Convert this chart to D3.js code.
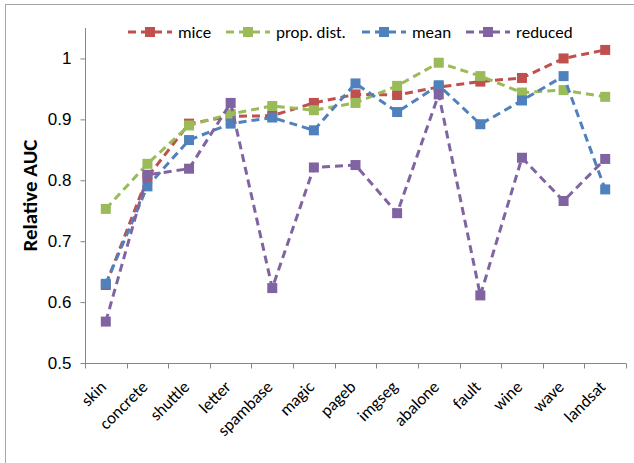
<!DOCTYPE html>
<html>
<head>
<meta charset="utf-8">
<script src="https://cdn.jsdelivr.net/npm/d3@7"></script>
<style>
  html, body { margin: 0; padding: 0; background: #fff; }
  svg { display: block; font-family: Carlito, Lato, "Liberation Sans", sans-serif; }
</style>
</head>
<body>
<svg id="chart" width="634" height="463"></svg>
<script>
// Datasets along the x axis
const categories = ["skin", "concrete", "shuttle", "letter", "spambase", "magic", "pageb",
                    "imgseg", "abalone", "fault", "wine", "wave", "landsat"];

// Relative AUC per imputation method
const mice     = [0.628, 0.805, 0.893, 0.905, 0.906, 0.927, 0.941, 0.940, 0.953, 0.962, 0.968, 1.000, 1.014];
const propDist = [0.753, 0.827, 0.890, 0.909, 0.922, 0.915, 0.927, 0.955, 0.993, 0.971, 0.944, 0.948, 0.937];
const mean     = [0.630, 0.790, 0.866, 0.893, 0.903, 0.882, 0.959, 0.912, 0.956, 0.892, 0.931, 0.971, 0.785];
const reduced  = [0.568, 0.809, 0.819, 0.927, 0.623, 0.821, 0.825, 0.746, 0.941, 0.611, 0.837, 0.766, 0.835];

const seriesNames = ["mice", "prop. dist.", "mean", "reduced"];
const seriesValues = [mice, propDist, mean, reduced];
const seriesColors = ["#C0504D", "#9BBB59", "#4F81BD", "#8064A2"];

const yTicks = [0.5, 0.6, 0.7, 0.8, 0.9, 1];

const svg = d3.select("#chart");

// Outer chart frame
svg.append("rect")
  .attr("x", 5.5).attr("y", 4.5)
  .attr("width", 640).attr("height", 470)
  .attr("fill", "#fff").attr("stroke", "#a6a6a6").attr("stroke-width", 1);

const plot = { left: 85, right: 626, top: 28, bottom: 363 };

const x = d3.scaleBand().domain(categories).range([plot.left, plot.right]);
const y = d3.scaleLinear().domain([0.5, 1.05]).range([plot.bottom, plot.top]);

// Y axis
const yAxis = svg.append("g")
  .attr("transform", `translate(${plot.left + 0.5},0)`)
  .call(d3.axisLeft(y).tickValues(yTicks).tickFormat(d3.format("~g")).tickSize(5).tickSizeOuter(0).tickPadding(9));
yAxis.select(".domain").attr("stroke", "#868686").attr("d", `M0,${plot.top}V${plot.bottom}`);
yAxis.selectAll(".tick line").attr("stroke", "#868686");
yAxis.selectAll(".tick text").attr("font-size", 17).attr("fill", "#000").attr("font-family", null);

// X axis with ticks on category boundaries
const xAxis = svg.append("g").attr("transform", `translate(0,${plot.bottom + 0.5})`);
xAxis.append("path")
  .attr("d", `M${plot.left},0H${plot.right}`)
  .attr("stroke", "#868686").attr("fill", "none");
const bounds = categories.map(c => x(c)).concat([x(categories[categories.length - 1]) + x.bandwidth()]);
xAxis.selectAll("line.tk").data(bounds).join("line")
  .attr("class", "tk")
  .attr("x1", d => Math.round(d) + 0.5).attr("x2", d => Math.round(d) + 0.5)
  .attr("y1", 0).attr("y2", 5)
  .attr("stroke", "#868686");
xAxis.selectAll("text").data(categories).join("text")
  .attr("transform", d => `translate(${x(d) + x.bandwidth() / 2 - 7},${16}) rotate(-45)`)
  .attr("text-anchor", "end")
  .attr("dy", "0.7em")
  .attr("font-size", 17)
  .text(d => d);

// Y axis title
svg.append("text")
  .attr("transform", `translate(37,${(plot.top + plot.bottom) / 2}) rotate(-90)`)
  .attr("text-anchor", "middle")
  .attr("font-size", 21)
  .attr("font-weight", "bold")
  .text("Relative AUC");

// Series lines and markers
const line = d3.line()
  .x((d, i) => x(categories[i]) + x.bandwidth() / 2)
  .y(d => y(d));

const markerSize = 10;
seriesValues.forEach((vals, s) => {
  const g = svg.append("g");
  g.append("path")
    .attr("d", line(vals))
    .attr("fill", "none")
    .attr("stroke", seriesColors[s])
    .attr("stroke-width", 3)
    .attr("stroke-dasharray", "8,5");
  g.selectAll("rect").data(vals).join("rect")
    .attr("x", (d, i) => x(categories[i]) + x.bandwidth() / 2 - markerSize / 2)
    .attr("y", d => y(d) - markerSize / 2)
    .attr("width", markerSize).attr("height", markerSize)
    .attr("fill", seriesColors[s]);
});

// Legend
const legendX = [128, 226, 362, 466];
const legendY = 32;
seriesNames.forEach((name, s) => {
  const g = svg.append("g").attr("transform", `translate(${legendX[s]},${legendY})`);
  g.append("line")
    .attr("x1", 0).attr("x2", 44).attr("y1", 0).attr("y2", 0)
    .attr("stroke", seriesColors[s]).attr("stroke-width", 3)
    .attr("stroke-dasharray", "8,5");
  g.append("rect")
    .attr("x", 22 - markerSize / 2).attr("y", -markerSize / 2)
    .attr("width", markerSize).attr("height", markerSize)
    .attr("fill", seriesColors[s]);
  g.append("text")
    .attr("x", 50).attr("y", 0).attr("dy", "0.35em")
    .attr("font-size", 17)
    .text(name);
});
</script>
</body>
</html>
